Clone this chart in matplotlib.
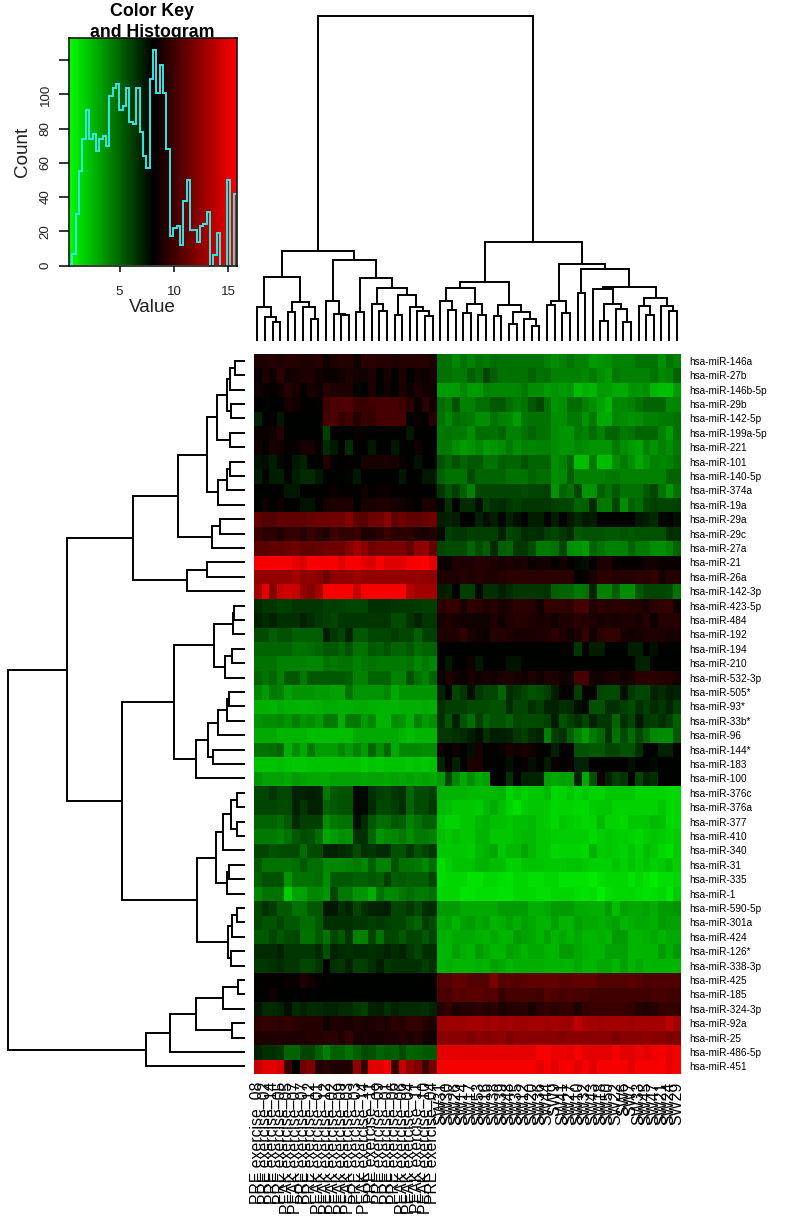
import matplotlib
matplotlib.use("Agg")
import matplotlib.pyplot as plt
import numpy as np
from matplotlib.colors import LinearSegmentedColormap

W, H = 791, 1220
plt.rcParams['font.family'] = ['Liberation Sans', 'DejaVu Sans']

mirnas = ["hsa-miR-146a", "hsa-miR-27b", "hsa-miR-146b-5p", "hsa-miR-29b", "hsa-miR-142-5p", "hsa-miR-199a-5p",
          "hsa-miR-221", "hsa-miR-101", "hsa-miR-140-5p", "hsa-miR-374a", "hsa-miR-19a", "hsa-miR-29a", "hsa-miR-29c",
          "hsa-miR-27a", "hsa-miR-21", "hsa-miR-26a", "hsa-miR-142-3p", "hsa-miR-423-5p", "hsa-miR-484", "hsa-miR-192",
          "hsa-miR-194", "hsa-miR-210", "hsa-miR-532-3p", "hsa-miR-505*", "hsa-miR-93*", "hsa-miR-33b*", "hsa-miR-96",
          "hsa-miR-144*", "hsa-miR-183", "hsa-miR-100", "hsa-miR-376c", "hsa-miR-376a", "hsa-miR-377", "hsa-miR-410",
          "hsa-miR-340", "hsa-miR-31", "hsa-miR-335", "hsa-miR-1", "hsa-miR-590-5p", "hsa-miR-301a", "hsa-miR-424",
          "hsa-miR-126*", "hsa-miR-338-3p", "hsa-miR-425", "hsa-miR-185", "hsa-miR-324-3p", "hsa-miR-92a", "hsa-miR-25",
          "hsa-miR-486-5p", "hsa-miR-451"]

exercise_samples = ["PRE exercise_08", "PRE exercise_02", "PRE exercise_14", "PRE exercise_05", "PEAK exercise_05",
                    "PEAK exercise_07", "PRE exercise_07", "PRE exercise_12", "PEAK exercise_01", "PEAK exercise_12",
                    "PEAK exercise_02", "PEAK exercise_09", "PEAK exercise_03", "PRE exercise_03", "PEAK exercise_14",
                    "PRE exercise_11", "PRE exercise_09", "PRE exercise_01", "PRE exercise_06", "PEAK exercise_06",
                    "PEAK exercise_04", "PEAK exercise_11", "PEAK exercise_10", "PRE exercise_04"]
sw_samples = ["SW31", "SW30", "SW26", "SW14", "SW17", "SW53", "SW16", "SW38", "SW39", "SW48", "SW35", "SW12", "SW20",
              "SW36", "SW44", "SW9", "SW41", "SW27", "SW10", "SW32", "SW43", "SW18", "SW50", "SW22", "SW6", "SW7",
              "SW33", "SW45", "SW47", "SW21", "SW24", "SW29"]

exercise_values = [
 [9.0,9.0,9.2,9.0,9.2,9.2, 9.0,9.0,9.2,8.6,9.0,9.2, 9.2,8.6,9.4,9.4,9.2,9.2, 9.0,9.2,9.2,9.2,9.2,9.0],
 [8.4,9.0,8.6,9.5,8.6,8.8, 9.0,9.0,8.6,8.4,8.4,8.6, 9.0,8.6,8.6,9.0,8.2,8.8, 8.3,9.0,8.0,8.6,8.4,8.8],
 [8.6,8.4,8.0,8.6,9.2,8.8, 8.2,8.8,8.6,9.2,9.0,9.0, 9.0,7.9,8.0,9.0,8.0,8.6, 8.0,9.0,8.4,9.0,8.6,8.6],
 [8.2,7.9,8.0,8.2,8.8,8.6, 8.2,8.2,8.3,10.0,10.4,10.4, 10.5,9.8,9.8,10.0,10.2,10.2, 10.2,9.8,9.4,8.4,9.4,8.8],
 [7.0,8.0,8.2,7.3,8.0,8.0, 8.0,8.0,8.0,10.2,10.4,9.6, 10.0,9.2,9.8,9.6,10.2,10.2, 10.2,10.2,8.0,8.4,8.0,9.4],
 [8.4,8.4,8.6,9.2,8.0,8.0, 8.0,8.0,8.0,6.2,8.0,8.0, 8.0,8.4,8.3,8.0,8.0,8.0, 8.0,8.0,7.4,8.0,8.0,8.0],
 [8.6,8.2,8.8,8.6,8.2,8.4, 8.8,8.8,8.3,6.8,7.4,8.0, 6.8,8.0,8.0,7.4,8.0,8.0, 7.3,8.0,8.0,8.6,8.0,8.0],
 [7.5,7.7,7.2,7.8,8.0,7.4, 7.0,8.0,8.0,9.2,8.3,8.0, 8.2,8.0,8.8,8.8,8.8,8.8, 8.8,8.4,8.0,7.5,8.0,8.0],
 [7.2,7.9,7.2,7.2,7.9,7.2, 6.8,6.8,7.3,8.0,8.0,8.0, 7.9,7.4,8.0,8.0,8.0,8.0, 8.0,7.4,8.0,8.0,7.4,7.4],
 [8.0,8.0,8.0,8.0,7.4,7.4, 8.0,8.0,8.0,8.2,8.4,8.2, 8.2,8.2,8.6,8.2,8.4,8.4, 8.2,8.2,8.2,8.2,8.0,8.0],
 [8.0,8.6,8.0,8.6,8.0,8.0, 7.5,7.5,8.0,8.8,9.0,9.0, 9.0,8.2,8.8,8.8,9.0,9.0, 8.8,8.6,8.4,8.2,9.0,8.8],
 [11,10.6,10.6,11,11,11, 11,11.2,11.4,11.4,11.5,11.4, 12,10.8,10.8,11.4,11.4,12.2, 11,11.4,11,11,11.2,11.4],
 [9.8,9.4,9.4,9.0,9.6,9.6, 9.2,9.8,9.4,9.0,10,9.6, 9.6,9.8,9.0,9.0,9.4,9.8, 9.4,9.4,9.4,9.0,8.8,9.2],
 [10.8,10.8,11,11,11.2,11.4, 11,11,11.2,11.4,11.4,11.4, 12,12.8,12.4,11.4,11.8,11.8, 11.8,11.8,11.2,12.4,12.6,11.2],
 [15.5,15.5,15.5,15.5,15.5,15, 14.6,15.5,15.5,15.5,15.5,14.8, 15.5,15.5,15,14.6,15.5,14.8, 14.8,14.8,15.5,15.5,15.8,15],
 [12.5,12.5,12.5,12.5,12.5,13, 12.4,12.6,12.2,11.4,12.4,12.4, 12.5,12.8,12.5,12.5,12.5,12.5, 12.5,12.5,12.5,12.6,12.5,12.4],
 [13,15,12,14,14.4,14, 12.5,12,13,15.5,15.5,15.5, 15.5,14,15.5,15.5,15.5,15.5, 15.5,15.5,13.5,13,13,13],
 [6.7,6.5,6.4,6.2,6.2,6.5, 6.5,6.4,6.5,6.2,6.2,6.2, 6.0,6.0,6.0,6.6,6.6,6.6, 6.5,6.4,6.4,6.3,6.2,6.2],
 [7.0,6.8,7.0,6.6,6.6,6.6, 7.0,6.7,6.4,6.2,6.0,6.4, 6.4,6.4,6.4,6.4,6.5,6.5, 5.8,5.8,6.5,7.0,6.5,6.5],
 [5.8,5.8,5.2,5.6,5.6,5.2, 5.2,5.2,5.2,7.2,6.4,6.0, 7.0,5.4,5.4,6.0,6.0,6.0, 6.3,6.0,6.0,5.2,6.2,6.2],
 [5,5,5,5,5,4.6, 4.6,4.8,5,5.4,5.4,5, 5.6,4.6,4.6,5.4,5.2,5.6, 5,5,5.4,4.8,5,5],
 [4.6,4.6,4.6,4.2,4.2,4.2, 4.2,4,4,4.6,4.4,4.6, 4.6,4.2,4.4,4.6,4.4,4.4, 4.4,4.4,4.6,4,4.4,4],
 [5,4.6,5,4.2,5.4,5.4, 4.4,5.4,5.4,5.4,5.4,5.4, 5.2,4.2,4.2,5,5,5, 4.2,4.2,5.6,4.6,4.2,5],
 [4,3.4,4.4,4.2,3.2,3.6, 3.6,3.6,3.4,3.4,3.2,3.2, 4.6,3.6,3.6,3.6,3.6,4, 3,3.6,3.6,3.6,3.6,3.6],
 [2.8,2.8,2.7,2.9,2.8,2.7, 2.7,2.7,2.8,3,2.9,2.8, 2.8,2.9,3,2.8,2.7,2.7, 2.6,2.8,2.8,2.8,2.9,2.8],
 [3.6,3.8,3.8,4,3.6,4.2, 3.6,3.8,3.4,4.4,4.4,2.8, 4.4,4.4,3.4,4,2.6,2.6, 3.8,3.6,2.8,4.2,3.4,3.8],
 [3,3,3,2.6,2.6,2.6, 2.6,2.4,2.4,2.4,2.4,2.4, 2.4,3,3,3,3,3, 3,2.6,2.4,2.6,2.6,2.6],
 [4.6,4.6,4.8,5,2.8,3.8, 3,4.4,3.4,3.4,3.4,4, 3.4,4.2,3.4,5,3.8,5, 3,4,4,4,3.8,3.8],
 [2.2,2.2,2.2,2.4,2.2,2.1, 2.1,2.2,2.2,2.2,2.2,2.2, 2.2,2.2,1.9,2.2,2,2.2, 2.2,2.2,2.1,2.2,2.1,2.2],
 [3.6,3.2,3.2,3.2,3,3.4, 3.2,3,3,3,3.2,3.2, 3.2,3.2,3,3.2,3.2,3, 3.2,3,3.2,3,3.2,3],
 [6,6,6.4,6,6,7, 7,7.2,7,4.4,5.4,5.6, 5.6,7.8,7.8,6.6,6.2,6, 6.4,6.6,5,5.8,5.8,6.2],
 [6,6,6,5.8,5.8,7, 6.4,7,7,5,5.4,5.6, 5.6,7.8,7.8,6.8,6,6, 6.2,6.8,5,5.8,5.8,6.4],
 [5,5,5,4.8,5.4,6.8, 6.2,6.2,6.2,3.8,4.4,4.6, 4.6,7.6,6.8,5.4,4.8,4.8, 5.4,5.2,4.2,4.6,5.2,5.2],
 [4.4,4.4,4.4,4.2,4.6,5.4, 5.8,5.6,4.8,3,3.4,3.8, 3.6,6.6,6.6,5,3.6,4, 4,4.4,3.8,4.4,4.4,4.2],
 [6,6,5.6,5.8,5.8,5.8, 4.8,5.8,5.8,7,7,6.8, 6.6,5.8,6.6,6.4,6.8,6.8, 5.6,5.6,6.4,5.6,6,6.4],
 [5.4,4.6,4.6,4.6,4.6,4.8, 5.4,4.8,4.8,4,4,4, 4.2,4.4,4,5.2,4.2,4.2, 5.6,4.6,4.6,4.4,4,4.8],
 [5.2,5.6,5.6,5.6,3.6,4.6, 4.6,4.6,4.8,3.8,5.4,5.4, 5.4,5.2,5.2,5.4,5.2,6.2, 5.2,5.4,5.2,5.2,5.2,6],
 [4,4.6,4.6,4.6,1.9,3.2, 3.2,4,4,3.6,6,4.4, 4.4,3.6,3.6,2.8,4.6,4, 4,4.4,4.8,4.4,4.4,4.8],
 [6,6.6,6.2,5.4,5.4,4.6, 4.6,5.4,5.4,7.4,7.4,6.6, 7,6,6.6,7,7,7.2, 6,6,6.4,5.8,6.6,6.8],
 [6,5.6,5.6,6,5.4,5.4, 4.8,4.8,5.4,6.6,6.6,6.6, 6.6,6.4,6.4,6.2,6.4,6.2, 6,6,5.4,5,6.2,5.8],
 [5.4,5.4,6,5.4,5.8,6, 4.6,4.6,5.4,4.6,6,5.4, 6.4,4.2,4.2,6,4.6,6, 6,5.4,6,6,5.4,6],
 [6.8,6.8,6.8,7,6.4,6.4, 6.4,6.4,6.8,5.6,7,6.8, 6.6,6.8,6.8,6.6,6.8,7, 6.8,7,6.4,6,6.6,6.8],
 [6.4,6.4,6.6,6.8,6.4,6.4, 6,6,6.4,8,6.6,6.4, 7,6.2,6.2,6.6,7.2,6.4, 6.6,6.6,6.6,6.6,6.2,6.6],
 [8,8.2,8.2,8.2,8.4,8.4, 9,8.6,8.2,8,8,8, 8,8,8,8,8,8, 8,8,8,8,8,8.2],
 [8,8,8.6,8,8,8, 8.2,8,8,8,8,8, 8,8,8,8,8,8, 8,8,8,8,8,8],
 [7.4,6.8,6.8,7,7.6,6.8, 7,6.8,6.8,7,7,6.8, 6.8,6.4,6.2,7,7.2,6.6, 7,6.8,6.8,6.8,6.6,7],
 [9.4,9.6,9.6,9.4,9.6,9.4, 9.2,9.2,9.2,8.6,9,9, 8.8,9.2,8.8,9,9.2,8.8, 9.4,9.2,9.6,9.6,9.2,8.8],
 [9,9,9,9,9,9, 9,9.2,9.2,9.4,9.4,9, 9.6,8.8,9,8.8,8.8,9, 9,9.2,9,9.2,8.6,8.6],
 [7,6.6,6.6,6.4,5,5, 6,6,5.2,4.2,5.2,5.2, 4.6,5.2,5.8,5.6,5,5.4, 5.2,5.8,5,5.2,5.4,5.4],
 [14,15,15,14.5,10,8, 11.5,12,9,9.4,9,9, 9,12.4,9.6,15,15,15.5, 9.6,14,12.5,12,10,11.5],
]

sw_values = [
 [4.6,4.6,4.0,4.6,4.2,4.6,4.4,4.8, 4.6,4.6,4.6,4.6,4.6,4.6,4.2,3.8, 4.2,4.6,4.2,4.2,3.4,3.6,3.8,4.2, 4.2,4.2,4.6,4.6,4.6,3.8,4.6,4.2],
 [4.6,4.6,4.4,4.4,5.2,4.8,6.0,5.2, 4.6,4.6,4.6,4.6,5,4.6,4.8,4.2, 4.2,4.2,4.2,4.0,4.4,3.8,3.4,4.4, 4.2,4.2,4.2,4.2,4.6,4.0,4.2,5.0],
 [3.4,3.4,3.4,4,3.4,3.4,4.2,4, 4,4,4,4.4,3.8,3.8,3.4,3.6, 3.4,3.6,2.4,2.8,2.6,3.4,3.4,3.0, 2.9,3.6,3.6,3.8,2.6,2.4,2.4,3.4],
 [4.8,4.4,5.6,4.2,4.2,4.8,4.8,5.4, 5.4,4.8,4.4,4.6,5.4,6.0,4.6,3.6, 3.8,4.8,4.8,4.2,3.8,3.2,2.6,4, 4,4.2,4.6,5,5,5,4,4],
 [4.6,4.0,4.8,4.6,4.4,3.8,3.8,4.6, 4.2,4,3.4,4.4,4.6,4.6,4.6,3.8, 3.8,4.4,4.4,3.6,4.4,3,3,4, 3.8,3.6,3.8,4.2,4.2,4.4,4.4,4.6],
 [4.4,4.6,4.4,4.4,3.8,4.8,4.8,4.6, 5.0,4.2,4.2,4.6,5.0,4.6,4.6,3.8, 3.6,3.6,4.4,4.2,4.8,4.2,5,5, 4.4,4.6,5,5,5,4.2,3.4,4.6],
 [4.4,4.4,3.8,3.4,3.6,4,3.4,3.6, 3.8,4.4,3.8,4.2,4,4.2,4.2,3.8, 3.6,3.6,4,3.8,3.6,3.6,3.6,4.4, 3.8,3.4,3.2,4.2,3.6,4.2,3.8,4.4],
 [5.6,5,5.6,5,5.4,5.4,4.6,4.6, 5.2,5,5,5.6,5,5,5,3.8, 4.2,5,2.4,2.4,4.4,2.4,2.4,3.8, 4.4,3.8,3,3.6,4.2,4,4.2,4.6],
 [5.2,4.6,4.6,4.6,5.8,5,5,5, 5,4.6,4.6,4.6,5,4.8,4.8,3.8, 4,5.2,4.2,4.2,4.2,4.2,4.4,4.4, 4.2,4.2,4.2,4.2,4.2,4.2,5,5],
 [6.4,5.6,6.2,5.2,4.2,6,6,6, 6,6,6,5.8,6,6,6.2,3.6, 5,4.6,6,3.6,3.6,5.2,4.6,5.4, 4.6,4.6,4.6,5.4,6,4.6,3.6,4.6],
 [7.9,6.6,8,6.8,6.8,7.6,6.2,6.6, 6.8,6.4,6.2,6.4,6.4,6.4,6.4,6.2, 6,6,5,5.2,6.8,4.4,4.4,6, 3.8,5.2,4.8,5.8,6.2,6,6,6.2],
 [7.2,7,7.2,8,8,7,7.6,7.2, 7.8,7,7.6,8,7.2,7.2,8,7.2, 8,7.4,6.8,7.4,7.2,8,8,8, 8,8,7.4,7.2,6.8,7.8,8,7.6],
 [7.8,6.2,6.4,6.4,6.2,6.2,6.2,6.2, 7,6,6.2,6.8,6.6,6.8,6.2,6, 6.4,6.8,5.4,5.6,5.6,5.6,5.4,5.4, 5.6,5.4,5.6,5.6,5.6,5.6,6.6,6.6],
 [6,5.8,5.8,5.8,5,5.8,5.2,6.8, 5.2,5,6.4,6.4,5.8,4.4,4.4,4.6, 6,3.8,3.6,3.4,5,4.6,4.2,4.2, 4.2,5,4.4,4.4,3.8,3.8,4.2,5],
 [8.4,8.4,9,9,9,9.2,9.2,9, 8.8,9,8.8,9,8.4,8.6,8.6,8.2, 8.6,8.2,7.8,7.6,8.2,9,9,8.4, 8.2,8.2,8.2,8.6,8.6,8.4,8.4,8.4],
 [9,9,9,9.2,9,9.2,9,9, 9.2,9.4,9.4,9.4,9.4,9.4,9.4,9.4, 9.4,9.4,8.2,8.4,8.8,9.4,9.4,9.2, 9.2,9.2,9.4,9.4,9.6,8.8,9.2,9.2],
 [7.2,7,8,6.2,6.2,7.8,6.6,6.6, 7.2,6.8,6.4,6.4,6.4,6.4,6.6,5.2, 5,5,4.4,4.6,7,4.2,4.2,5.2, 3.8,3.8,5.4,6,6,6,5.8,4.6],
 [9.4,9.6,9.6,8.8,9.6,9.4,9,9.2, 8.8,9,9.4,9.4,9.2,8.6,9.6,9.6, 9.6,9.4,10.2,10.2,9,9.4,9.2,9.4, 9.4,9.2,9.2,8.8,9.4,9.6,9.6,8.6],
 [8.8,9,8.8,8.6,8.6,8.6,8.6,9, 8.6,9,9.2,9.2,9,8.8,9,8.6, 9,9,9.4,9.2,9,8.8,9,8.8, 9,9,8.8,9.2,8.4,9.2,9.2,9.2],
 [9,9,9,9.6,8.8,8.6,8.4,9.2, 9.2,9,8.8,8.8,8.8,9,9,9.4, 9,8.6,9,9.6,8.6,9.4,9.6,9.6, 8.8,8.6,8.8,9,9,9,8.8,8.8],
 [8,8,8,8,8,8,8,8, 8,8,8,8,8,8,8,8, 8.2,8,6.4,8,7.2,7.2,8,8, 8,7.2,7.2,8,7.6,8,8,8],
 [8,7.4,8,8,8.6,7.4,8,8, 8,7.5,7.5,8,8,8,8,8.2, 8,8,8,8,8,8,8,8, 8,8,7,7,8,8,8,8],
 [8.4,9,8.6,8.4,8.8,8.6,8.8,8.6, 9,9,8.8,8.6,9,8.6,9,9, 8.6,8.6,10.2,10.2,8.6,8.6,8.8,9, 8.6,8.8,9.4,9.4,9.4,9.2,9.2,8.8],
 [7,8,6,6.4,7.6,6.4,6,6, 5,6.8,6.4,6,5.6,5.8,6.2,7.2, 8,8,6.2,8,8,6,5.8,5.8, 7.6,6.4,6,6,7,6.8,7.2,7],
 [6.6,6.2,6.2,6.2,5.8,5.8,5.8,5.6, 5.6,6.8,6,6,6.6,6.2,7,7, 6.6,6.8,7.6,7.8,5.6,5.6,6.6,6.6, 6.2,5.8,6.6,6.2,6.8,6.4,7,6.2],
 [6.6,5.6,7,5.6,4.8,6.2,5.2,5.6, 5.6,5.2,6,5.8,5.8,5.8,6.2,7.2, 5.6,6.2,6.6,6,7,6.4,6.4,5, 6.6,6,7.4,6.4,6.2,6.6,6.2,5.2],
 [6.4,6.4,6.6,6.8,7.2,7.6,6.6,7.2, 7.2,7,6.4,6.2,6.8,7,4.2,6.2, 6.6,5.2,4.2,3.4,4.4,5,6.6,4.6, 5.8,4.8,6,5,4,3.8,3.8,5.4],
 [8.6,8,8.6,8,7.6,8.8,8,8, 8.4,8.8,8.6,8.8,8.6,8.2,8,7, 8,8,5.6,5.6,5.4,5.4,6,6, 5.6,5.6,6.6,8,8,7,7,8],
 [7,8.4,7,8,9,8.8,8,8, 8,7.6,8,8.4,7.6,8,7.2,8.4, 8,8.4,7,7,8,8,8,8, 8,7.6,8,8,7.8,8,8,8],
 [3.4,6,4,3,3.8,3,3.2,8, 8,6.6,8,7,7,7,3.2,3, 3.2,3.2,7,3,5.6,8.6,7,6.2, 6.4,8,6,7,6.6,8,8,8],
 [2.7,2.7,2.7,2.7,2.5,2.5,2.5,2.5, 2.7,1.7,2.1,1.7,2.1,2.1,2.5,1.5, 1.7,2.1,1.7,2.1,1.7,1.7,2.1,2.1, 2.1,2.1,1.7,1.7,1.7,1.7,1.5,1.5],
 [2.5,2.3,2.1,2.1,2.1,1.9,2.5,2.9, 2.3,1.7,1.3,1.9,2.1,2.1,1.9,1.5, 1.7,1.7,1.5,1.5,1.9,2.1,2.1,1.7, 1.7,1.7,1.7,1.7,1.7,2.1,1.5,1.5],
 [2.1,1.7,1.7,2.1,2.1,2.5,2.7,2.3, 2.3,2.1,2.3,2.3,2.5,2.1,1.9,1.5, 2.1,1.9,1.7,1.5,1.7,2.5,1.7,1.7, 1.5,2.1,2.1,2.1,2.5,2.3,1.5,1.5],
 [2.3,2.1,2.3,2.1,2.1,2.7,2.7,2.1, 2.1,2.1,2.3,2.5,2.5,2.1,2.1,1.9, 1.9,1.9,1.9,1.9,1.5,1.9,2.1,1.9, 1.9,1.7,1.5,1.9,2.1,1.9,1.7,1.9],
 [2.1,2.1,2.1,2.1,1.9,2.5,2.7,3.1, 2.1,2.5,2.5,3.1,2.5,2.1,2.1,1.5, 1.7,1.7,1.7,1.5,2.7,1.9,2.1,1.9, 1.7,2.1,1.7,2.3,2.1,1.5,1.3,1.9],
 [1.4,1.8,2.2,2.2,2.2,2.6,2.6,2.4, 2.4,1.8,1.8,2.2,2.2,2.2,2,2, 2,2.2,2.2,2,1.8,1.8,1.8,2.2, 1.8,2.2,1.8,2.2,1.8,2,2.4,1.8],
 [1.4,1.6,1.6,1.6,1.2,1.2,1.6,1.6, 1.4,1.2,1.6,1.6,1.4,1.4,1.6,1.6, 1.2,1.2,1.2,1.2,1,1.4,1.6,1.6, 1.6,1.2,1.6,1.2,0.9,1.4,1.4,1.6],
 [1.6,1.6,1.6,1.2,1.2,1.4,1.4,1.4, 1.2,1.2,1.6,1.6,1.6,1.4,1.4,1.6, 1.6,1.6,1.4,1.2,1.4,0.9,1.4,1.6, 1.6,1.6,1.4,1.2,1.4,1.6,1.1,1.9],
 [3.4,3.4,3.4,3,3,3,3,3, 3.4,3.4,3.4,3.4,2.8,2.8,3,3.4, 3.4,3.4,3,3,2.8,2.8,3.4,2.4, 3.2,3,3,3.2,2.8,3.4,3.4,3.6],
 [3,3.2,2.6,3.2,3.4,3,3.2,2.6, 2.8,3.2,2.8,3.2,3,2.6,2.6,3.2, 2.6,2.6,3.2,3,3,2.8,3,3.2, 2.6,2.8,3,3,2.8,3.4,3.2,3.2],
 [2.8,2.6,3,3,3,2.8,2.6,3, 2.6,2.6,3.4,3.2,3,2.6,3.2,2.6, 3,2.6,3,2.6,2.6,2.8,2.6,3.4, 3.4,2.6,2.6,2.8,3,2.6,3,3],
 [2.6,2.6,3.2,2.8,2.6,3.4,3,2.6, 2.6,3.2,3,2.6,3,3,2.6,2.6, 3.4,3.4,3,2.8,2.6,2.6,3.2,3.2, 3.2,2.6,2.6,2.6,2.6,3.4,2.8,3.4],
 [2.6,2.8,2.6,2.6,2.6,2.8,2.6,3.2, 3,2.6,2.8,2.8,2.8,2.8,2.6,2.6, 2.6,2.6,3,2.6,2.6,3,3,2.6, 3.2,2.6,3,2.6,2.6,2.6,2.6,2.6],
 [10.6,10.6,11,11,10.6,10.6,10.6,11.8, 10.6,10.8,10.6,10.8,11,11,11,11, 10.8,10.8,11,11,11,10.6,10.6,10.6, 10.6,10.8,10.6,10.4,10.4,10.4,10.4,10.4],
 [10.4,10.2,10.8,10.6,10.8,10.8,10.6,10.6, 9.8,10.2,10.2,10.2,10.2,10,10.6,10.4, 10.2,10.4,10.2,10.2,10,10,10,10, 10,10,10,10,10.2,10.2,10,10],
 [9.2,9.6,9,9.2,9.2,9.4,9.2,9.4, 9,9.2,9.2,9.4,8.8,9.4,9.6,9.4, 9.6,9.6,9,9.6,9.8,9.8,9.8,9.8, 9.8,9.6,9.2,9,9.2,9.6,9.8,9.6],
 [12.8,12.8,12.8,12.8,13,13,12.8,13, 12.8,13,12.8,12.8,13,13,12.8,13, 12.8,12.8,13.8,13.2,13,12.8,13,13, 13,12.8,13,13,13,13,13.8,13],
 [12.2,12.2,12.2,12.2,11.8,12.2,12,12.2, 12.4,11.8,12.2,12.2,12.2,12.2,12.2,12.2, 12,12.2,12.2,12.2,12.2,12.2,12.2,11.8, 12.2,12.2,12.2,12.4,12.2,12.2,11.8,12],
 [15,15,15,15,15,15,15,15, 15,15,15,15,15,15.5,15.5,15.2, 15.2,15,15.5,15,15,15,15,15.5, 15,15,15.3,15,15.3,15.5,15,15.5],
 [15.5,15.5,15.5,15.5,15.5,15.5,15.5,15.5, 15.5,15.5,15.5,15.5,15.5,15,15.5,15, 15.5,15.5,15,15.5,14.8,15.5,15.5,15.5, 15.5,15,15.5,15.5,15.5,15.5,15,15.5],
]

hist_counts = [1, 7, 30, 55, 74, 91, 74, 77, 67, 74, 76, 70, 99, 104, 106, 91, 93, 104, 84, 83, 104, 78, 64, 57, 109,
               126, 101, 117, 101, 68, 17, 22, 23, 12, 38, 50, 21, 21, 14, 23, 24, 31, 0, 6, 19, 0, 0, 50, 0, 42]
value_min, value_max = 0.35, 15.8

# Dendrograms: nested (merge height, left child, right child); ints are leaf positions.
sample_tree = (325,
  (90.3,
    (64, (34.3, 0, (23.7, 1, (19, 2, 3))), (39, (28.7, 4, 5), (34.3, 6, (21.7, 7, 8)))),
    (81, (40, 9, (27, 10, (25.7, 11, 12))),
      (62.7, (29, 13, 14),
        (53.3, (37, 15, (30.3, 16, 17)),
          (46, (26.3, 18, 19), (33.7, 20, (30.3, 21, (25, 22, 23)))))))),
  (99,
    (59,
      (53.3, (39.7, 24, (31, 25, 26)), (37, (27.7, 27, 28), (25.7, 29, 30))),
      (36, (25, 31, 32), (28.7, (17, 33, 34), (22, 35, (15, 36, 37))))),
    (77,
      (39.7, (36.3, 38, 39), (27.7, 40, 41)),
      (71.7, (47.7, 42, 43),
        (53.7,
          (51.7, 44, (37, (20.3, 45, 46), (32, 47, (18.7, 48, 49)))),
          (43.3, (35, 50, (26, 51, 52)), (35, 53, (30.3, 54, 55))))))))

mirna_tree = (236.7,
  (177.7,
    (112.3,
      (67.3,
        (38.3,
          (27.7, (18.3, (15, (9.7, 0, 1), 2), (14, 3, 4)), (14.7, 5, 6)),
          (27, (17.7, (15, 7, 8), 9), 10)),
        (33, (24.7, 11, 12), 13)),
      (58, (38, 14, 15), 16)),
    (123.3,
      (71,
        (31.3, (12.3, (11, 17, 18), 19), (20, (12.7, 20, 21), 22)),
        (49.3, (36.7, (27.3, (17.7, (15.7, 23, 24), 25), 26), (32.3, 27, 28)), 29)),
      (48,
        (29.3, (22.3, (13.7, (8.3, 30, 31), (8.3, 32, 33)), 34), (18.3, (15.7, 35, 36), 37)),
        (16.7, (12.7, (8.3, 38, 39), 40), (14.3, 41, 42))))),
  (99, (74.7, (48.7, (21.7, (7.3, 43, 44), 45), (13.3, 46, 47)), 48), 49))


def ax_px(left, top, right, bottom, **kw):
    return fig.add_axes([left / W, 1 - bottom / H, (right - left) / W, (bottom - top) / H], **kw)


def draw_tree(ax, node, horizontal=False):
    if isinstance(node, int):
        return node, 0.0
    h, a, b = node
    pa, ha = draw_tree(ax, a, horizontal)
    pb, hb = draw_tree(ax, b, horizontal)
    pos = [pa, pa, pb, pb]
    hts = [ha, h, h, hb]
    xs, ys = (hts, pos) if horizontal else (pos, hts)
    ax.plot(xs, ys, color='black', lw=1.4, solid_joinstyle='miter', solid_capstyle='butt', clip_on=False)
    return (pa + pb) / 2, h


fig = plt.figure(figsize=(W / 100, H / 100), dpi=100, facecolor='white')
cmap = LinearSegmentedColormap.from_list('gbr', ['#00ff00', '#000000', '#ff0000'], N=256)

# Heatmap
HM = (253.5, 353.5, 680.5, 1073.5)
matrix = np.hstack([np.array(exercise_values, dtype=float), np.array(sw_values, dtype=float)])
ax = ax_px(*HM)
ax.imshow(matrix, cmap=cmap, vmin=value_min, vmax=value_max, aspect='auto', interpolation='nearest')
for s in ax.spines.values():
    s.set_visible(False)
ax.yaxis.tick_right()
ax.set_yticks(range(len(mirnas)))
ax.set_yticklabels(mirnas, fontsize=7.2, color='black')
ax.set_xticks(range(matrix.shape[1]))
ax.set_xticklabels(exercise_samples + sw_samples, rotation=90, fontsize=11.45, color='black', va='top', ha='center')
ax.tick_params(axis='y', length=0, pad=6.5)
ax.tick_params(axis='x', length=0, pad=6.0)

# Column dendrogram
atop = ax_px(HM[0], 0, HM[2], 341)
atop.set_xlim(-0.5, matrix.shape[1] - 0.5)
atop.set_ylim(0, 341)
atop.axis('off')
draw_tree(atop, sample_tree)

# Row dendrogram
aleft = ax_px(0, HM[1], 245, HM[3])
aleft.set_xlim(245, 0)
aleft.set_ylim(matrix.shape[0] - 0.5, -0.5)
aleft.axis('off')
draw_tree(aleft, mirna_tree, horizontal=True)

# Colour key
fig.text(152 / W, 1 - 11.5 / H, "Color Key", ha='center', va='center', fontsize=12.8, fontweight='bold', zorder=-1)
fig.text(152 / W, 1 - 32.5 / H, "and Histogram", ha='center', va='center', fontsize=12.8, fontweight='bold', zorder=-1)
ak = ax_px(69, 38, 237, 265.5)
ak.set_zorder(5)
ymax = 133
ak.imshow(np.linspace(value_min, value_max, 256)[None, :], cmap=cmap, vmin=value_min, vmax=value_max, aspect='auto',
          extent=(value_min, value_max, 0, ymax), interpolation='bilinear')
edges = np.linspace(value_min, value_max, len(hist_counts) + 1)
ak.stairs(hist_counts, edges, color='#35e6e6', lw=1.4, baseline=0)
ak.set_xlim(value_min, value_max)
ak.set_ylim(0, ymax)
ak.set_xticks([5, 10, 15])
ak.set_yticks([0, 20, 40, 60, 80, 100, 120])
ak.set_yticklabels(['0', '20', '40', '60', '80', '100', ''], rotation=90, va='center', fontsize=9.6, color='#222222')
ak.tick_params(axis='y', length=7, width=1.1, pad=5.5)
ak.tick_params(axis='x', length=4, width=1.1, pad=11, labelsize=9.6, labelcolor='#222222')
for s in ak.spines.values():
    s.set_linewidth(1.1)
fig.text(152 / W, 1 - 308 / H, "Value", ha='center', va='center', fontsize=13.6, color='#222222')
fig.text(23 / W, 1 - 151.5 / H, "Count", ha='center', va='center', rotation=90, fontsize=13.6, color='#222222')

fig.savefig('out.png', dpi=100, facecolor='white')
